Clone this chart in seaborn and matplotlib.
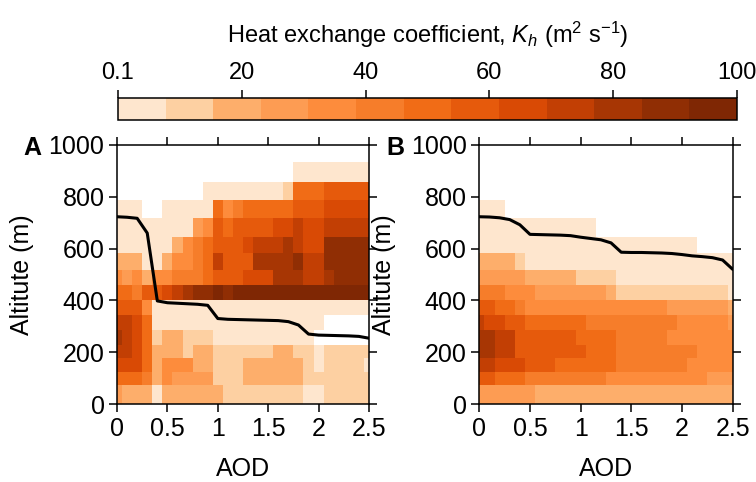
import numpy as np
import pandas as pd
import matplotlib
matplotlib.use("Agg")
import matplotlib.pyplot as plt
import seaborn as sns
from matplotlib.colors import ListedColormap, Normalize
from matplotlib.cm import ScalarMappable

nan = np.nan

# ---------------- data ----------------
aod = [0.0, 0.1, 0.2, 0.3, 0.4, 0.5, 0.6, 0.7, 0.8, 0.9, 1.0, 1.1, 1.2,
       1.3, 1.4, 1.5, 1.6, 1.7, 1.8, 1.9, 2.0, 2.1, 2.2, 2.3, 2.4, 2.5]
# altitude layer edges (m), bottom -> top
alt_edges = [0, 73, 125, 176, 228, 286, 344, 401, 459, 517, 582, 646, 717, 788, 858, 935]

# Kh (m2 s-1), rows listed from top layer (858-935 m) down to bottom layer (0-73 m)
kh_A = [
    [nan]*18 + [4]*8,
    [nan]*9 + [4]*8 + [12, 50, 50, 50, 58, 58, 58, 58, 58],
    [4, 4, 4, nan, nan, 4, 4, 4, 4, 4, 50, 35, 42, 50, 50, 50, 50, 50, 58, 58, 58, 65, 65, 65, 65, 65],
    [4, 4, 4, 4, 4, 4, 4, 4, 27, 35, 58, 50, 58, 58, 58, 58, 65, 65, 73, 65, 65, 73, 73, 73, 73, 73],
    [4, 4, 4, 4, 4, 4, 19, 35, 42, 50, 58, 58, 58, 65, 73, 73, 73, 81, 73, 65, 65, 88, 88, 88, 88, 88],
    [19, 19, 19, 4, 4, 19, 35, 35, 42, 50, 73, 58, 58, 58, 81, 81, 81, 81, 88, 73, 73, 88, 88, 88, 88, 88],
    [35, 27, 35, 19, 35, 35, 42, 42, 42, 50, 58, 58, 58, 65, 65, 65, 81, 81, 81, 73, 73, 81, 88, 88, 88, 88],
    [50, 50, 42, 58, 58, 65, 73, 81, 88, 88, 96, 88] + [96]*14,
    [58, 58, 58, 35] + [4]*22,
    [73, 73, 65, 50] + [4]*17 + [nan]*5,
    [81, 73, 65, 50, 12, 19, 19, 12, 12, 12] + [4]*10 + [nan]*6,
    [73, 73, 65, 50, 19, 19, 19, 12, 19, 19, 12, 12, 12, 12, 12, 12, 19, 19, 12, 12, 4, 12, 12, 12, 12, 12],
    [65, 65, 65, 50, 19, 35, 35, 35, 19, 19, 12, 12, 12, 19, 19, 19, 19, 19, 19, 12, 4, 12, 12, 12, 12, 4],
    [50, 50, 50, 42, 19, 35, 27, 27, 27, 27, 12, 12, 12, 19, 19, 19, 19, 19, 19, 12, 12, 12, 12, 12, 12, 12],
    [27, 19, 19, 19, 4, 19, 19, 19, 19, 19, 19, 12, 12, 12, 12, 12, 12, 12, 12, 4, 4, 12, 12, 12, 12, 12],
]
kh_B = [
    [nan]*26,
    [nan]*26,
    [4, 4, 4] + [nan]*23,
    [4]*12 + [nan]*14,
    [4]*22 + [nan]*4,
    [19, 19, 19, 19, 12] + [4]*21,
    [27, 27, 27, 27, 27, 19, 19, 19, 19, 19, 12, 12, 12, 12] + [4]*12,
    [42, 42, 42, 35, 35, 35, 27, 27, 27, 27, 27, 27, 27, 19] + [12]*11 + [4],
    [58, 58, 50, 50, 42] + [35]*14 + [27]*6 + [19],
    [73, 65, 65, 58, 58] + [50]*6 + [42]*9 + [35]*5 + [27],
    [81, 81, 73, 73] + [58]*6 + [50]*4 + [42]*5 + [35]*7,
    [81, 81, 73, 73] + [58]*7 + [50]*3 + [42]*8 + [35]*4,
    [73, 73, 65, 65, 65, 58, 58, 58] + [50]*6 + [42]*7 + [35]*5,
    [58, 58, 50, 50, 50] + [42]*8 + [35]*10 + [27]*3,
    [27]*6 + [19]*20,
]
# boundary-layer height lines (m)
pblh_A = [723, 721, 717, 660, 398, 391, 389, 387, 385, 381, 330, 327, 326,
          325, 324, 323, 322, 318, 305, 270, 266, 265, 264, 263, 261, 254]
pblh_B = [723, 722, 719, 712, 692, 655, 654, 653, 652, 650, 644, 639, 634,
          622, 586, 585, 585, 584, 583, 581, 577, 572, 569, 565, 556, 520]

cbar_ticks = [0, 20, 40, 60, 80, 100]
cbar_ticklabels = ["0.1", "20", "40", "60", "80", "100"]
level_colors = ['#fee6ce', '#fdd0a2', '#fdae6b', '#fd9c53', '#fd8c3c', '#f67d2a', '#f16c16',
                '#e65a0c', '#d94a05', '#c23f04', '#a73604', '#902e04', '#7f2704']

# ---------------- style ----------------
sns.set_style("ticks")
plt.rcParams['font.family'] = ['Liberation Sans', 'DejaVu Sans']
plt.rcParams['mathtext.fontset'] = 'custom'
plt.rcParams['mathtext.rm'] = 'Liberation Sans'
plt.rcParams['mathtext.it'] = 'Liberation Sans:italic'
plt.rcParams['axes.edgecolor'] = 'black'
plt.rcParams['axes.linewidth'] = 1.1
plt.rcParams['text.color'] = 'black'
plt.rcParams['axes.labelcolor'] = 'black'
plt.rcParams['xtick.color'] = 'black'
plt.rcParams['ytick.color'] = 'black'

cmap = ListedColormap(level_colors)
fs = 18

fig = plt.figure(figsize=(7.56, 4.82), dpi=100)
ax_pos = {"A": [117/756, 1-404/482, 252/756, 259/482],
          "B": [479.3/756, 1-404/482, 253.4/756, 259/482]}

alt_centers = [(alt_edges[i] + alt_edges[i+1]) / 2 for i in range(len(alt_edges)-1)]
aod_edges = [aod[0] - 0.05] + [a + 0.05 for a in aod]

for name, grid, line in [("A", kh_A, pblh_A), ("B", kh_B, pblh_B)]:
    ax = fig.add_axes(ax_pos[name])
    rows = grid[::-1]  # bottom -> top
    recs = []
    for i, row in enumerate(rows):
        for j, v in enumerate(row):
            recs.append((aod[j], alt_centers[i], v))
    df = pd.DataFrame(recs, columns=["aod", "alt", "kh"]).dropna()
    sns.histplot(data=df, x="aod", y="alt", weights="kh",
                 bins=[aod_edges, alt_edges], cmap=cmap, vmin=0, vmax=100,
                 ax=ax, cbar=False)
    sns.lineplot(x=aod, y=line, color="black", lw=2.2, ax=ax)
    ax.set_xlim(0, 2.5)
    ax.set_ylim(0, 1000)
    ax.set_xticks([0, 0.5, 1, 1.5, 2, 2.5])
    ax.set_xticklabels(["0", "0.5", "1", "1.5", "2", "2.5"])
    ax.set_yticks([0, 200, 400, 600, 800, 1000])
    ax.tick_params(direction="out", top=True, right=True, length=6, width=1.1,
                   labelsize=fs, colors="black", pad=3)
    for s in ax.spines.values():
        s.set_visible(True)
        s.set_linewidth(1.1)
    ax.set_xlabel("AOD", fontsize=fs)
    ax.set_ylabel("Altitute (m)", fontsize=fs)
    ax.xaxis.set_label_coords(0.5, -0.205)
    ax.yaxis.set_label_coords(-0.33, 0.5)
    ax.grid(False)

fig.text(32/756, 1-148/482, "A", fontsize=fs, fontweight="bold", ha="center", va="center")
fig.text(395/756, 1-148/482, "B", fontsize=fs, fontweight="bold", ha="center", va="center")

cax = fig.add_axes([118/756, 1-120/482, 619/756, 22/482])
sm = ScalarMappable(norm=Normalize(0, 100), cmap=cmap)
cb = fig.colorbar(sm, cax=cax, orientation="horizontal")
cb.set_ticks(cbar_ticks)
cb.set_ticklabels(cbar_ticklabels)
cax.xaxis.set_ticks_position("top")
cax.xaxis.set_label_position("top")
cax.tick_params(direction="out", length=6, width=1.1, labelsize=17, pad=4, colors="black")
cb.outline.set_linewidth(1.1)
cb.outline.set_edgecolor("black")
cb.set_label(r"Heat exchange coefficient, $K_h$ (m$^2$ s$^{-1}$)", fontsize=17, labelpad=14)

fig.savefig("out.png", dpi=100)
